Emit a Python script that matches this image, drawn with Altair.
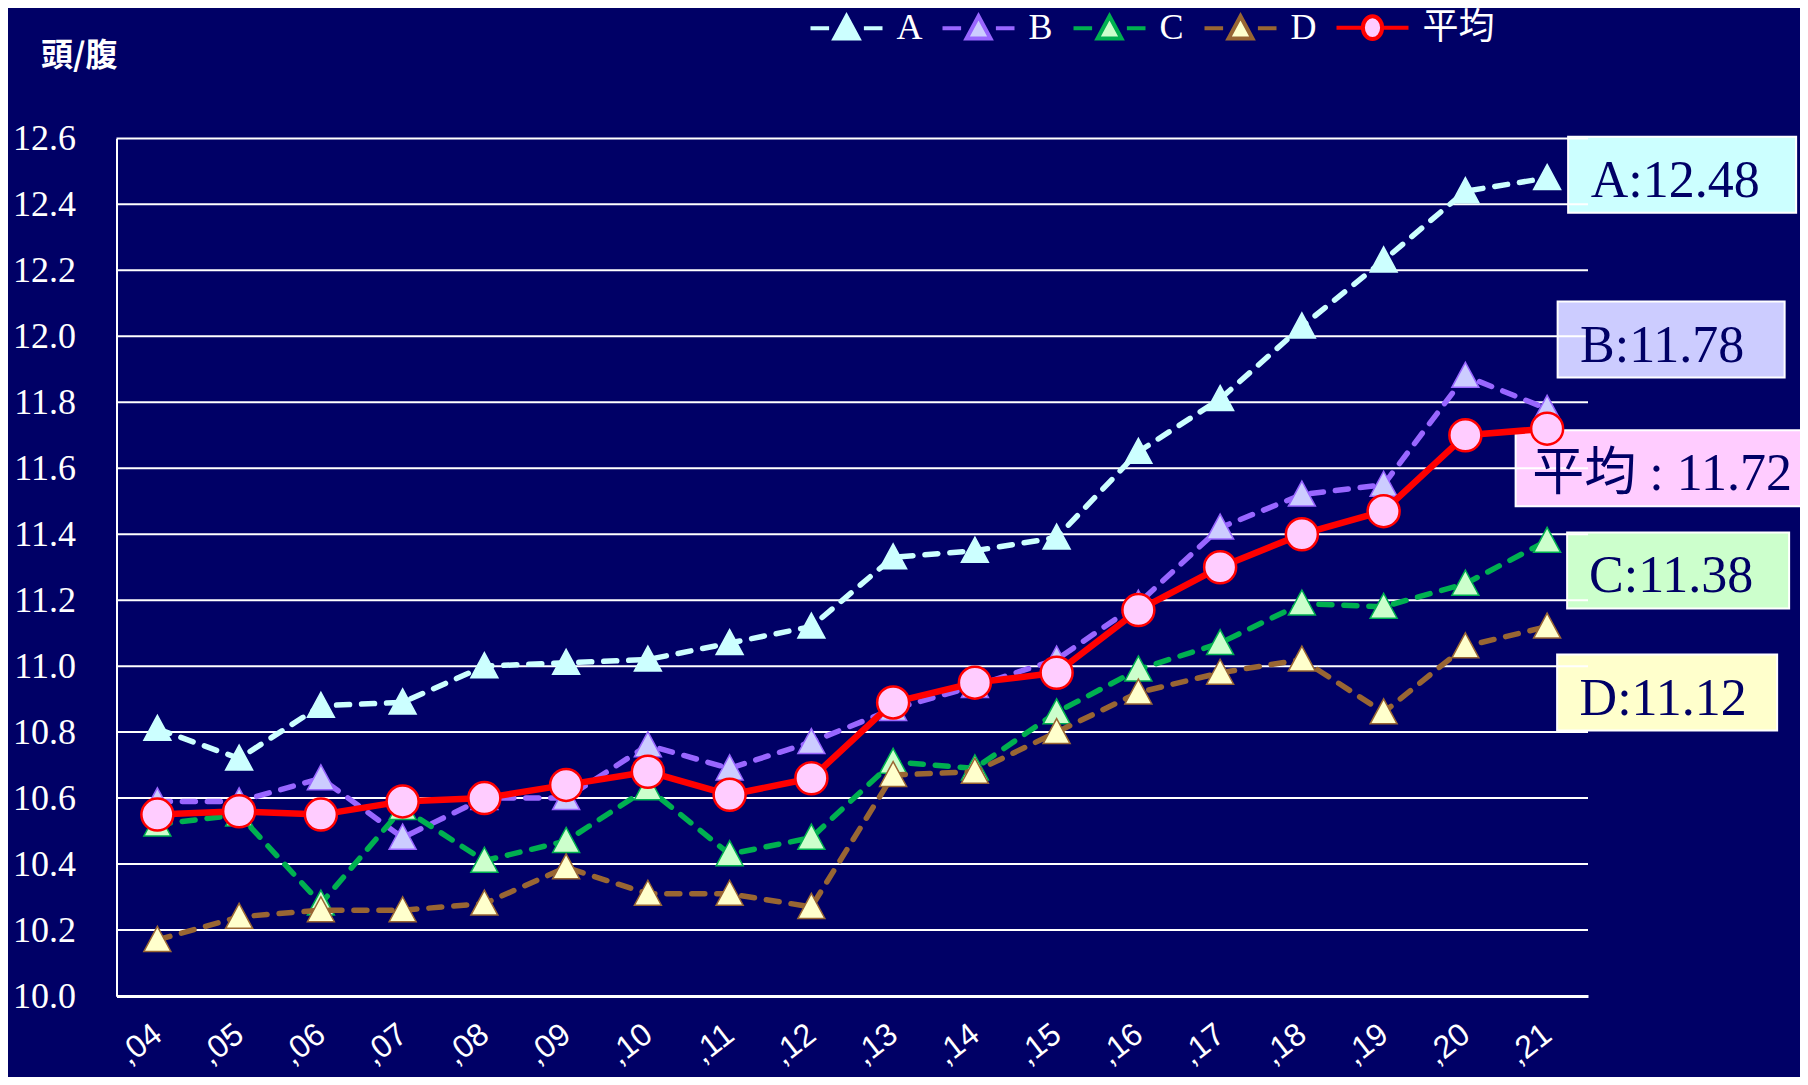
import altair as alt
import pandas as pd

# ---------------- data ----------------
years = [",04", ",05", ",06", ",07", ",08", ",09", ",10", ",11", ",12",
         ",13", ",14", ",15", ",16", ",17", ",18", ",19", ",20", ",21"]
series_names = ["A", "B", "C", "D", "平均"]

vals_A = [10.81, 10.72, 10.88, 10.89, 11.00, 11.01, 11.02, 11.07, 11.12,
          11.33, 11.35, 11.39, 11.65, 11.81, 12.03, 12.23, 12.44, 12.48]
vals_B = [10.59, 10.59, 10.66, 10.48, 10.60, 10.60, 10.76, 10.69, 10.77,
          10.87, 10.94, 11.02, 11.19, 11.42, 11.52, 11.55, 11.88, 11.78]
vals_C = [10.52, 10.55, 10.28, 10.57, 10.41, 10.47, 10.63, 10.43, 10.48,
          10.71, 10.69, 10.86, 10.99, 11.07, 11.19, 11.18, 11.25, 11.38]
vals_D = [10.17, 10.24, 10.26, 10.26, 10.28, 10.39, 10.31, 10.31, 10.27,
          10.67, 10.68, 10.80, 10.92, 10.98, 11.02, 10.86, 11.06, 11.12]
vals_avg = [10.55, 10.56, 10.55, 10.59, 10.60, 10.64, 10.68, 10.61, 10.66,
            10.89, 10.95, 10.98, 11.17, 11.30, 11.40, 11.47, 11.70, 11.72]
series_values = [vals_A, vals_B, vals_C, vals_D, vals_avg]

y_ticks = [10.0, 10.2, 10.4, 10.6, 10.8, 11.0, 11.2, 11.4, 11.6, 11.8,
           12.0, 12.2, 12.4, 12.6]

label_texts = ["A:12.48", "B:11.78", "平均 : 11.72", "C:11.38", "D:11.12"]
label_year = ",21"
label_anchor = [12.49, 11.99, 11.60, 11.29, 10.92]

# ---------------- styles ----------------
BG = "#000066"
SERIF = "Liberation Serif, Noto Sans CJK JP"
TRI = "M0,-1L1,0.85L-1,0.85Z"
TRI_LEG = "M-3,0H-1.45M1.45,0H3M0,-1L1,0.85L-1,0.85Z"
AVG_LEG = "M-3,0H-0.8M0.8,0H3M-0.8,0A0.8,0.95 0 1,1 0.8,0A0.8,0.95 0 1,1 -0.8,0Z"

line_colors = ["#CCFFFF", "#9966FF", "#00B050", "#996633", "#FF0000"]
marker_fills = ["#CCFFFF", "#CCCCFF", "#CCFFCC", "#FFFFCC", "#FFCCFF"]
marker_strokes = ["#CCFFFF", "#9966FF", "#00B050", "#996633", "#FF0000"]
line_widths = [5.5, 5.5, 5.5, 5.5, 6.5]
marker_shapes = [TRI, TRI, TRI, TRI, "circle"]
marker_sizes = [729, 729, 729, 729, 1024]
legend_shapes = [TRI_LEG, TRI_LEG, TRI_LEG, TRI_LEG, AVG_LEG]

box_fills = ["#CCFFFF", "#CCCCFF", "#FFCCFF", "#CCFFCC", "#FFFFCC"]
box_widths = [228, 227, 293, 222, 220]
box_height = 76
box_xoff = [135, 124, 115, 131, 120]
text_dx = [-7, -9, 0, -7, -4]

# ---------------- encodings ----------------
x_scale = alt.Scale(type="point", domain=years, padding=0.5)
y_scale = alt.Scale(domain=[10.0, 12.6], nice=False, zero=False)

x_axis = alt.Axis(title=None, labelAngle=322, labelAlign="right", labelBaseline="middle",
                  labelFont="Liberation Sans", labelFontSize=32, labelColor="white",
                  labelPadding=34, ticks=False, domainColor="white", domainWidth=3,
                  grid=False)
y_axis = alt.Axis(title="頭/腹", values=y_ticks, format=".1f",
                  labelFont="Liberation Serif", labelFontSize=36, labelColor="white",
                  labelPadding=41, ticks=False, domainColor="white", domainWidth=2,
                  grid=False, titleAngle=0, titleAlign="left", titleBaseline="middle",
                  titleX=-76, titleY=-83, titleFont="Noto Sans CJK JP",
                  titleFontWeight="bold", titleFontSize=32, titleColor="white")

X = alt.X("year:O", scale=x_scale, axis=x_axis)
Y = alt.Y("value:Q", scale=y_scale, axis=y_axis)

layers = []

# annotation boxes
for i, txt in enumerate(label_texts):
    d = pd.DataFrame({"year": [label_year], "value": [label_anchor[i]], "text": [txt]})
    w, h = box_widths[i] / 2, box_height / 2
    path = f"M{-w},{-h}H{w}V{h}H{-w}Z"
    layers.append(
        alt.Chart(d).mark_point(shape=path, size=4, filled=True, fill=box_fills[i],
                                stroke="white", strokeWidth=2, opacity=1,
                                xOffset=box_xoff[i]).encode(x=X, y=Y)
    )

# grid lines
grid_df = pd.DataFrame({"value": y_ticks})
layers.append(alt.Chart(grid_df).mark_rule(color="white", strokeWidth=2).encode(y=Y))

# annotation texts
for i, txt in enumerate(label_texts):
    d = pd.DataFrame({"year": [label_year], "value": [label_anchor[i]], "text": [txt]})
    layers.append(
        alt.Chart(d).mark_text(font=SERIF, fontSize=52, color=BG, align="center",
                               baseline="alphabetic", dx=box_xoff[i] + text_dx[i], dy=22)
        .encode(x=X, y=Y, text="text:N")
    )

# series
for i, name in enumerate(series_names):
    d = pd.DataFrame({"year": years, "value": series_values[i], "series": name})
    line_kw = dict(color=line_colors[i], strokeWidth=line_widths[i],
                   strokeCap="round", strokeJoin="round")
    if name != "平均":
        line_kw["strokeDash"] = [13, 12]
    layers.append(alt.Chart(d).mark_line(**line_kw).encode(x=X, y=Y))
    layers.append(
        alt.Chart(d).mark_point(shape=marker_shapes[i], size=marker_sizes[i], filled=True,
                                fill=marker_fills[i], stroke=marker_strokes[i],
                                strokeWidth=2.5 if name == "平均" else 1.5, opacity=1)
        .encode(x=X, y=Y)
    )

# legend layer
leg = alt.Legend(title=None, orient="none", legendX=712, legendY=-129,
                 direction="horizontal", columns=5, symbolSize=576, symbolStrokeWidth=4,
                 labelFont=SERIF, labelFontSize=36, labelColor="white",
                 labelOffset=32, columnPadding=12, padding=0, symbolLimit=0)
leg_df = pd.DataFrame({"series": series_names})
layers.append(
    alt.Chart(leg_df).mark_point(filled=True, opacity=1, strokeWidth=4)
    .encode(
        shape=alt.Shape("series:N", scale=alt.Scale(domain=series_names, range=legend_shapes), legend=leg),
        fill=alt.Fill("series:N", scale=alt.Scale(domain=series_names, range=marker_fills), legend=leg),
        stroke=alt.Stroke("series:N", scale=alt.Scale(domain=series_names, range=line_colors), legend=leg),
    )
    .transform_filter("false")
)

chart = alt.layer(*layers).properties(
    width=1471.5, height=857.6, background=BG,
    padding={"left": 108.5, "top": 130.4, "right": 212, "bottom": 81},
    autosize=alt.AutoSizeParams(type="none"),
).configure_view(strokeWidth=0)

chart.save("out.html", embed_options={"renderer": "svg", "actions": False})
